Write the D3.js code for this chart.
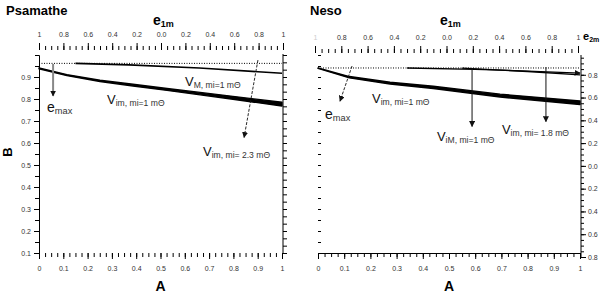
<!DOCTYPE html>
<html>
<head>
<meta charset="utf-8">
<script src="https://cdn.jsdelivr.net/npm/d3@7"></script>
<style>
  body { margin: 0; background: #fff; }
  svg { display: block; font-family: "Liberation Sans", Arial, sans-serif; }
  .tick text { fill: #333; font-size: 7px; }
</style>
</head>
<body>
<svg id="chart" width="600" height="294"></svg>
<script>
// ---- data ----
var panelNames = ["Psamathe", "Neso"];

// Psamathe
var psDottedA = [0, 1];
var psDottedB = [0.962, 0.962];
var psVMA = [0.15, 0.37, 0.66, 1];
var psVMB = [0.962, 0.955, 0.941, 0.917];
var psVim1A = [0, 0.115, 0.251, 0.387, 0.527, 0.663, 0.798, 1];
var psVim1B = [0.941, 0.911, 0.885, 0.867, 0.848, 0.830, 0.812, 0.785];
var psVim23B = [0.937, 0.906, 0.879, 0.859, 0.839, 0.819, 0.799, 0.768];

// Neso
var nsDottedA = [0, 1];
var nsDottedB = [0.941, 0.941];
var nsVimA = [0, 0.12, 0.275, 0.44, 0.695, 1];
var nsVim1B = [0.941, 0.902, 0.876, 0.858, 0.822, 0.791];
var nsVim2B = [0.939, 0.896, 0.868, 0.848, 0.809, 0.775];
var nsViMA = [0.34, 0.6, 0.8, 1];
var nsViMB = [0.941, 0.935, 0.927, 0.918];
var nsVim18A = [0.55, 0.8, 1];
var nsVim18B = [0.940, 0.925, 0.910];

// axis tick labels
var aTicks = [0, 0.1, 0.2, 0.3, 0.4, 0.5, 0.6, 0.7, 0.8, 0.9, 1];
var bTicks = [0.1, 0.2, 0.3, 0.4, 0.5, 0.6, 0.7, 0.8, 0.9];
var e1Ticks = [-1, -0.8, -0.6, -0.4, -0.2, 0, 0.2, 0.4, 0.6, 0.8, 1];
var e2Ticks = [0.8, 0.6, 0.4, 0.2, 0, -0.2, -0.4, -0.6, -0.8];

var svg = d3.select("#chart");
var black = "#000";

var defs = svg.append("defs");
defs.append("marker").attr("id", "head")
    .attr("viewBox", "0 0 10 10").attr("refX", 9).attr("refY", 5)
    .attr("markerUnits", "userSpaceOnUse")
    .attr("markerWidth", 6).attr("markerHeight", 6).attr("orient", "auto")
  .append("path").attr("d", "M0,0 L10,5 L0,10 z").attr("fill", "#111");

function pairs(a, b) {
    return a.map(function(v, i) { return [v, b[i]]; });
}

function fmtA(v) { return v === 0 ? "0" : v === 1 ? "1" : v.toFixed(1); }
function fmtAbs(v) {
    var a = Math.abs(v);
    return a === 1 ? "1" : a.toFixed(1);
}

function label(g, x, y, main, sub, size) {
    var t = g.append("text").attr("x", x).attr("y", y).attr("fill", "#111");
    t.append("tspan").attr("font-size", size).text(main);
    t.append("tspan").attr("font-size", size * 0.66).attr("dy", 2).attr("fill", "#333").text(sub);
    return t;
}

function arrow(g, p0, p1, opts) {
    g.append("line")
        .attr("x1", p0[0]).attr("y1", p0[1]).attr("x2", p1[0]).attr("y2", p1[1])
        .attr("stroke", opts.color || "#111")
        .attr("stroke-width", opts.width || 1)
        .attr("stroke-dasharray", opts.dash || null)
        .attr("marker-end", "url(#head)");
}

function drawPanel(cfg) {
    var g = svg.append("g");
    var x = d3.scaleLinear().domain([0, 1]).range([cfg.x0, cfg.x1]);
    var y = d3.scaleLinear().domain([0.1, 1]).range([253, 55]);
    var xe = d3.scaleLinear().domain([-1, 1]).range([cfg.e0, cfg.e1]);
    var line = d3.line().x(function(d) { return x(d[0]); }).y(function(d) { return y(d[1]); });
    var band = d3.area()
        .x(function(d) { return x(d[0]); })
        .y0(function(d) { return y(d[2]); })
        .y1(function(d) { return y(d[1]); });

    // titles
    g.append("text").attr("x", cfg.titleX).attr("y", 15)
        .attr("font-size", 13).attr("font-weight", "bold").text(cfg.name);
    var et = g.append("text").attr("x", cfg.eX).attr("y", 25).attr("font-weight", "bold");
    et.append("tspan").attr("font-size", 14).text("e");
    et.append("tspan").attr("font-size", 9).attr("dy", 2).text("1m");
    g.append("text").attr("x", (cfg.x0 + cfg.x1) / 2).attr("y", 291)
        .attr("text-anchor", "middle").attr("font-size", 14).attr("font-weight", "bold").text("A");

    // bottom axis (A)
    var bottom = g.append("g").attr("transform", "translate(0,253)");
    bottom.call(d3.axisBottom(x).tickValues(d3.range(0, 1.001, 0.025)).tickSize(4).tickFormat(""));
    bottom.selectAll(".tick line").attr("stroke", black);
    bottom.select(".domain").attr("stroke", cfg.bottomLine ? black : "none");
    var bl = g.append("g").attr("transform", "translate(0,253)")
        .call(d3.axisBottom(x).tickValues(aTicks).tickSize(6).tickPadding(7).tickFormat(fmtA));
    bl.select(".domain").remove();
    bl.selectAll(".tick line").attr("stroke", black);

    // top axis (e1m), ticks only, no line
    var top = g.append("g").attr("transform", "translate(0," + (cfg.topY + 6) + ")");
    top.call(d3.axisTop(xe).tickValues(d3.range(-1, 1.001, 0.05)).tickSize(4).tickFormat(""));
    top.select(".domain").remove();
    top.selectAll(".tick line").attr("stroke", black);
    var tl = g.append("g").attr("transform", "translate(0," + (cfg.topY + 6) + ")")
        .call(d3.axisTop(xe).tickValues(e1Ticks).tickSize(7).tickPadding(6).tickFormat(fmtAbs));
    tl.select(".domain").remove();
    tl.selectAll(".tick line").attr("stroke", black);
    if (cfg.faintLeft) tl.selectAll(".tick text").filter(function(d) { return d === -1; }).style("fill", "#ccc");

    // left axis (B)
    var left = g.append("g").attr("transform", "translate(" + cfg.x0 + ",0)");
    left.call(d3.axisLeft(y).tickValues(d3.range(0.1, 1.0001, 0.05)).tickSize(cfg.leftLine ? 4 : -3).tickFormat(""));
    left.select(".domain").attr("stroke", cfg.leftLine ? black : "none");
    left.selectAll(".tick line").attr("stroke", black);
    if (cfg.leftLine) {
        var ll = g.append("g").attr("transform", "translate(" + cfg.x0 + ",0)")
            .call(d3.axisLeft(y).tickValues(bTicks).tickSize(5).tickPadding(3).tickFormat(function(v) { return v.toFixed(1); }));
        ll.select(".domain").remove();
        ll.selectAll(".tick line").attr("stroke", black);
        g.append("text").attr("transform", "translate(12,152) rotate(-90)")
            .attr("text-anchor", "middle").attr("font-size", 13).attr("font-weight", "bold").text("B");
    }

    // right axis
    var rx = cfg.rightX;
    if (cfg.e2) {
        var ye = d3.scaleLinear().domain([-0.8, 1]).range([257, 52]);
        var r = g.append("g").attr("transform", "translate(" + rx + ",0)");
        r.call(d3.axisRight(ye).tickValues(d3.range(-0.8, 0.951, 0.05)).tickSize(3).tickFormat(""));
        r.select(".domain").attr("d", "M0,55V257").attr("stroke", black);
        r.selectAll(".tick line").attr("stroke", black);
        var rl = g.append("g").attr("transform", "translate(" + rx + ",0)")
            .call(d3.axisRight(ye).tickValues(e2Ticks).tickSize(5).tickPadding(2).tickFormat(fmtAbs));
        rl.select(".domain").remove();
        rl.selectAll(".tick line").attr("stroke", black);
        var e2 = g.append("text").attr("x", 583).attr("y", 40).attr("font-weight", "bold");
        e2.append("tspan").attr("font-size", 11).text("e");
        e2.append("tspan").attr("font-size", 7).attr("dy", 2).text("2m");
    } else {
        var r2 = g.append("g").attr("transform", "translate(" + rx + ",0)");
        r2.call(d3.axisRight(y).tickValues(d3.range(0.1, 1.0001, 1 / 30)).tickSize(4).tickFormat(""));
        r2.select(".domain").attr("d", "M0,54V254").attr("stroke", black);
        r2.selectAll(".tick line").attr("stroke", black);
    }

    // thick band between the two V_im curves
    g.append("path").datum(cfg.band.a.map(function(v, i) { return [v, cfg.band.hi[i], cfg.band.lo[i]]; }))
        .attr("d", band).attr("fill", black).attr("stroke", black)
        .attr("stroke-width", 1.4).attr("stroke-linejoin", "round");

    // curves
    cfg.lines.forEach(function(L) {
        g.append("path").datum(pairs(L.a, L.b))
            .attr("d", line).attr("fill", "none")
            .attr("stroke", L.color || black).attr("stroke-width", L.w)
            .attr("stroke-dasharray", L.dash || null)
            .attr("marker-end", L.head ? "url(#head)" : null);
    });

    // annotations
    function P(a, b) { return [x(a), y(b)]; }
    cfg.arrows.forEach(function(A) {
        arrow(g, P(A.from[0], A.from[1]), P(A.to[0], A.to[1]), A);
    });
    cfg.labels.forEach(function(L) {
        label(g, x(L.at[0]), y(L.at[1]), L.main, L.sub, L.size);
    });
}

drawPanel({
    name: panelNames[0], titleX: 6, eX: 153,
    x0: 39, x1: 282, e0: 39, e1: 283, rightX: 283, topY: 44,
    leftLine: true, bottomLine: false, e2: false,
    band: { a: psVim1A, hi: psVim1B, lo: psVim23B },
    lines: [
        { a: psDottedA, b: psDottedB, w: 1, dash: "1,1.5" },
        { a: psVMA, b: psVMB, w: 1.6 }
    ],
    arrows: [
        { from: [0.058, 0.959], to: [0.058, 0.814], color: "#888", width: 2 },
        { from: [0.901, 0.977], to: [0.844, 0.625], width: 0.9, dash: "3,1.5" }
    ],
    labels: [
        { at: [0.601, 0.858], main: "V", sub: "M, mi=1 mΘ", size: 13 },
        { at: [0.28, 0.778], main: "V", sub: "im, mi=1 mΘ", size: 13 },
        { at: [0.033, 0.742], main: "e", sub: "max", size: 14 },
        { at: [0.675, 0.543], main: "V", sub: "im, mi= 2.3 mΘ", size: 13 }
    ]
});

drawPanel({
    name: panelNames[1], titleX: 310, eX: 440,
    x0: 318, x1: 580, e0: 315, e1: 578, rightX: 581, topY: 47,
    leftLine: false, bottomLine: true, e2: true, faintLeft: true,
    band: { a: nsVimA, hi: nsVim1B, lo: nsVim2B },
    lines: [
        { a: nsDottedA, b: nsDottedB, w: 1, dash: "1,1.5" },
        { a: nsViMA, b: nsViMB, w: 1.3, head: true },
        { a: nsVim18A, b: nsVim18B, w: 1.3 }
    ],
    arrows: [
        { from: [0.13, 0.95], to: [0.084, 0.79], width: 0.9, dash: "3,1.5" },
        { from: [0.588, 0.941], to: [0.588, 0.675], width: 1 },
        { from: [0.87, 0.945], to: [0.87, 0.697], width: 1 }
    ],
    labels: [
        { at: [0.206, 0.784], main: "V", sub: "im, mi=1 mΘ", size: 13 },
        { at: [0.027, 0.707], main: "e", sub: "max", size: 14 },
        { at: [0.454, 0.611], main: "V", sub: "iM, mi=1 mΘ", size: 13 },
        { at: [0.702, 0.643], main: "V", sub: "im, mi= 1.8 mΘ", size: 13 }
    ]
});
</script>
</body>
</html>
